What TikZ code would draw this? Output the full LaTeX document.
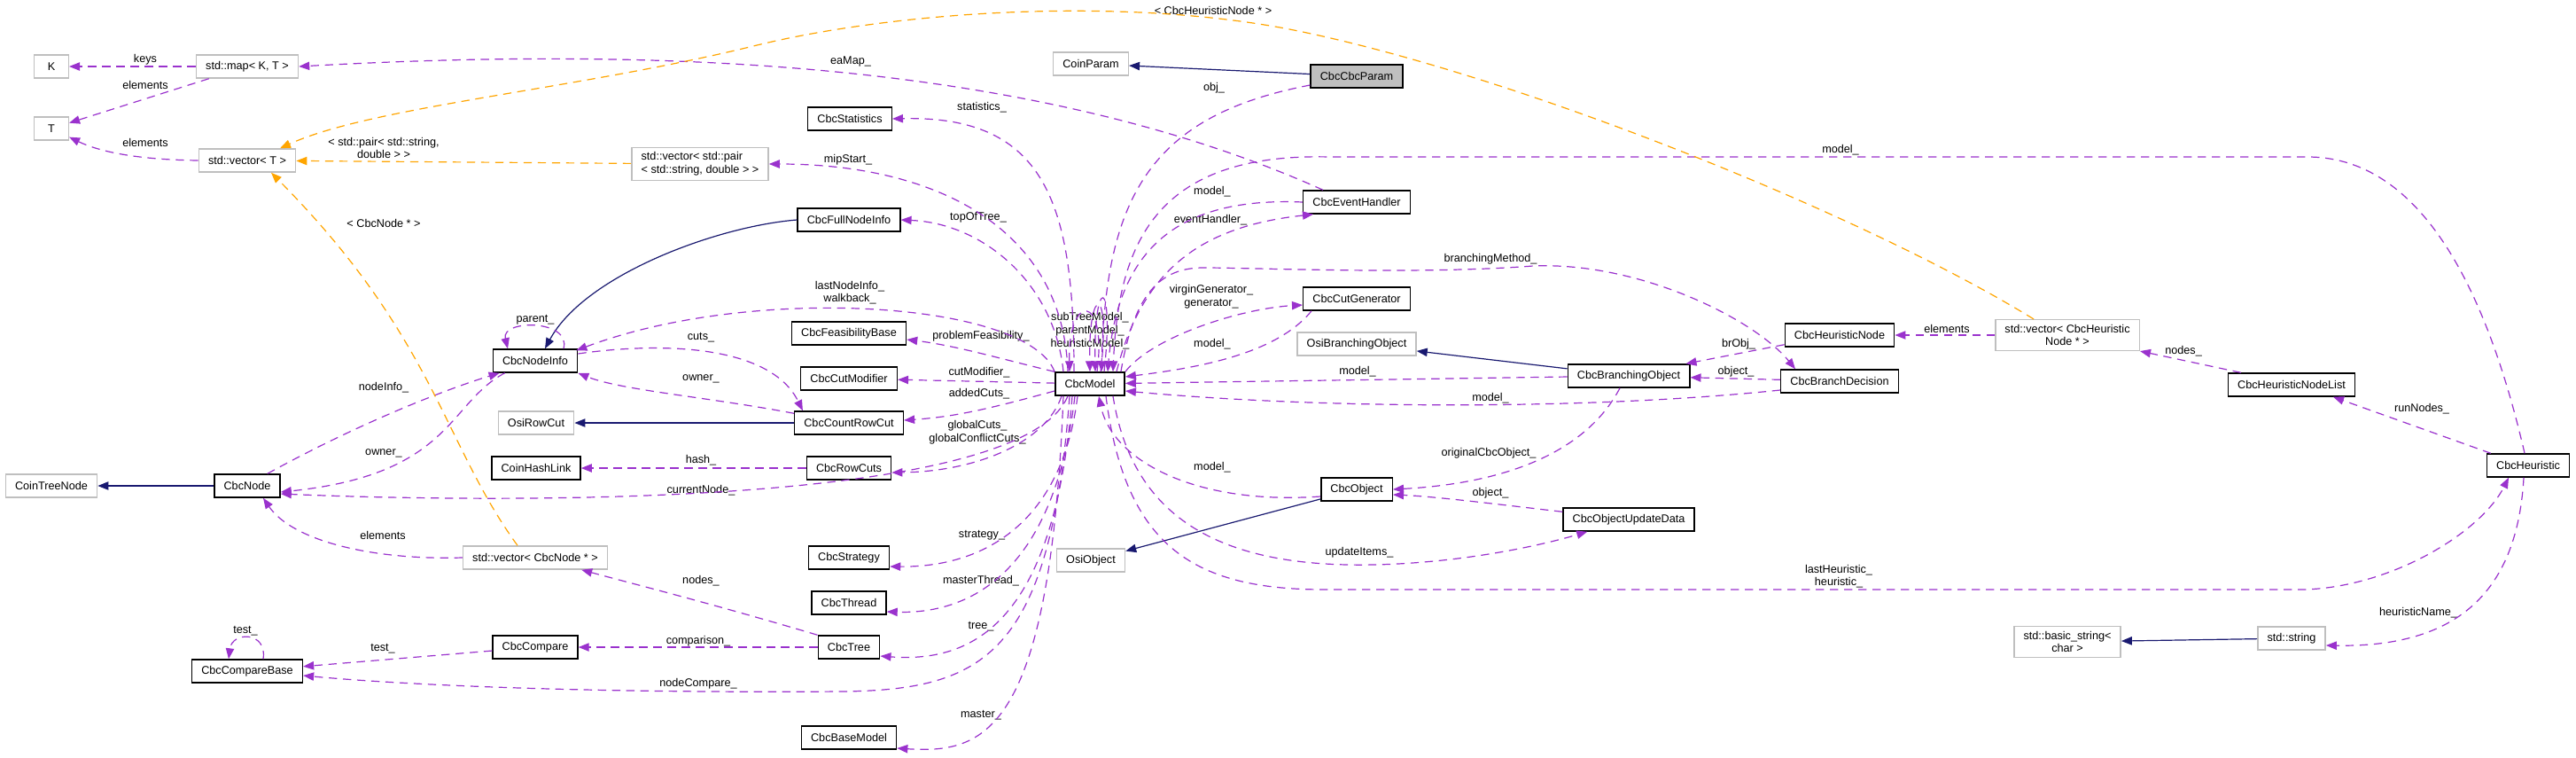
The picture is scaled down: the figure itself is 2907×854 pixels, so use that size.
\documentclass[tikz,border=0pt]{standalone}
\usepackage{fontspec}
\setmainfont{Liberation Sans}
\usetikzlibrary{arrows.meta,calc}
\definecolor{usecol}{HTML}{9A32CD}
\definecolor{tplcol}{HTML}{FFA500}
\definecolor{inhcol}{HTML}{191970}
\definecolor{extcol}{HTML}{BFBFBF}

\begin{document}
\begin{tikzpicture}[x=0.75pt,y=-0.75pt]
\tikzset{vertex/.style = {draw=black,line width=1.1pt,fill=white,minimum height=19.5pt,minimum width=29pt,inner xsep=8pt,inner ysep=4pt,font=\fontsize{9.5}{11}\selectfont}}
\tikzset{extvertex/.style = {vertex,draw=extcol}}
\tikzset{elabel/.style = {inner sep=0pt,align=center,font=\fontsize{9.5}{11}\selectfont}}
\tikzset{usage/.style = {draw=usecol,line width=0.9pt,dash pattern=on 7pt off 5pt,-{Triangle[length=9pt,width=7pt]}}}
\tikzset{templ/.style = {usage,draw=tplcol}}
\tikzset{inherit/.style = {draw=inhcol,line width=0.9pt,-{Triangle[length=9pt,width=7pt]}}}
\path[fill=white,use as bounding box] (0,0) rectangle (2907,854);
% vertices
\node[extvertex] (0) at (58,75) {K};
\node[extvertex] (1) at (279,75) {std::map< K, T >};
\node[extvertex] (2) at (58,145) {T};
\node[extvertex] (3) at (279,181) {std::vector< T >};
\node[extvertex,align=left] (4) at (790,185) {std::vector< std::pair\\< std::string, double > >};
\node[extvertex] (5) at (1231,72) {CoinParam};
\node[vertex,fill=extcol] (6) at (1531,86) {CbcCbcParam};
\node[vertex] (7) at (959,134) {CbcStatistics};
\node[vertex] (8) at (958,248) {CbcFullNodeInfo};
\node[vertex] (9) at (1531,228) {CbcEventHandler};
\node[vertex] (10) at (604,407) {CbcNodeInfo};
\node[vertex] (11) at (958,376) {CbcFeasibilityBase};
\node[vertex] (12) at (958,427) {CbcCutModifier};
\node[vertex] (13) at (1230,433) {CbcModel};
\node[vertex] (14) at (958,477) {CbcCountRowCut};
\node[extvertex] (15) at (605,477) {OsiRowCut};
\node[vertex] (16) at (958,528) {CbcRowCuts};
\node[vertex] (17) at (605,528) {CoinHashLink};
\node[extvertex] (18) at (58,548) {CoinTreeNode};
\node[vertex] (19) at (279,548) {CbcNode};
\node[vertex] (20) at (1531,337) {CbcCutGenerator};
\node[extvertex] (21) at (1531,388) {OsiBranchingObject};
\node[vertex] (22) at (1838,424) {CbcBranchingObject};
\node[vertex] (23) at (2076,378) {CbcHeuristicNode};
\node[vertex] (24) at (2076,430) {CbcBranchDecision};
\node[extvertex,align=center] (25) at (2333,378) {std::vector< CbcHeuristic\\Node * >};
\node[vertex] (26) at (2586,434) {CbcHeuristicNodeList};
\node[vertex] (27) at (2853,525) {CbcHeuristic};
\node[vertex] (28) at (1531,552) {CbcObject};
\node[vertex] (29) at (1838,586) {CbcObjectUpdateData};
\node[extvertex] (30) at (1231,632) {OsiObject};
\node[extvertex] (31) at (604,629) {std::vector< CbcNode * >};
\node[vertex] (32) at (958,629) {CbcStrategy};
\node[vertex] (33) at (958,680) {CbcThread};
\node[vertex] (34) at (958,730) {CbcTree};
\node[vertex] (35) at (604,730) {CbcCompare};
\node[vertex] (36) at (279,757) {CbcCompareBase};
\node[vertex] (37) at (958,832) {CbcBaseModel};
\node[extvertex,align=center] (38) at (2333,724) {std::basic\_string<\\char >};
\node[extvertex] (39) at (2586,720) {std::string};
% labels
\node[elabel] (l0) at (164,67) {keys};
\node[elabel] (l1) at (164,96) {elements};
\node[elabel] (l2) at (164,161) {elements};
\node[elabel] (l3) at (433,167) {< std::pair< std::string,\\double > >};
\node[elabel] (l4) at (433,252) {< CbcNode * >};
\node[elabel] (l5) at (1369,12) {< CbcHeuristicNode * >};
\node[elabel] (l6) at (960,69) {eaMap\_};
\node[elabel] (l7) at (1370,99) {obj\_};
\node[elabel] (l8) at (1108,121) {statistics\_};
\node[elabel] (l9) at (957,180) {mipStart\_};
\node[elabel] (l10) at (1104,245) {topOfTree\_};
\node[elabel] (l11) at (1368,216) {model\_};
\node[elabel] (l12) at (1366,248) {eventHandler\_};
\node[elabel] (l13) at (2077,169) {model\_};
\node[elabel] (l14) at (1682,292) {branchingMethod\_};
\node[elabel] (l15) at (959,330) {lastNodeInfo\_\\walkback\_};
\node[elabel] (l16) at (1230,373) {subTreeModel\_\\parentModel\_\\heuristicModel\_};
\node[elabel] (l17) at (1367,335) {virginGenerator\_\\generator\_};
\node[elabel] (l18) at (1368,388) {model\_};
\node[elabel] (l19) at (1107,379) {problemFeasibility\_};
\node[elabel] (l20) at (791,381) {cuts\_};
\node[elabel] (l21) at (791,427) {owner\_};
\node[elabel] (l22) at (604,361) {parent\_};
\node[elabel] (l23) at (1105,420) {cutModifier\_};
\node[elabel] (l24) at (1105,444) {addedCuts\_};
\node[elabel] (l25) at (1103,488) {globalCuts\_\\globalConflictCuts\_};
\node[elabel] (l26) at (791,519) {hash\_};
\node[elabel] (l27) at (791,553) {currentNode\_};
\node[elabel] (l28) at (433,437) {nodeInfo\_};
\node[elabel] (l29) at (433,511) {owner\_};
\node[elabel] (l30) at (1532,419) {model\_};
\node[elabel] (l31) at (1682,449) {model\_};
\node[elabel] (l32) at (1962,388) {brObj\_};
\node[elabel] (l33) at (1959,419) {object\_};
\node[elabel] (l34) at (2197,371) {elements};
\node[elabel] (l35) at (2464,396) {nodes\_};
\node[elabel] (l36) at (2733,461) {runNodes\_};
\node[elabel] (l37) at (1680,511) {originalCbcObject\_};
\node[elabel] (l38) at (1682,556) {object\_};
\node[elabel] (l39) at (1368,527) {model\_};
\node[elabel] (l40) at (1534,623) {updateItems\_};
\node[elabel] (l41) at (2075,650) {lastHeuristic\_\\heuristic\_};
\node[elabel] (l42) at (2729,691) {heuristicName\_};
\node[elabel] (l43) at (432,604) {elements};
\node[elabel] (l44) at (791,655) {nodes\_};
\node[elabel] (l45) at (1108,604) {strategy\_};
\node[elabel] (l46) at (1107,655) {masterThread\_};
\node[elabel] (l47) at (1107,707) {tree\_};
\node[elabel] (l48) at (788,723) {comparison\_};
\node[elabel] (l49) at (277,712) {test\_};
\node[elabel] (l50) at (432,732) {test\_};
\node[elabel] (l51) at (788,771) {nodeCompare\_};
\node[elabel] (l52) at (1107,807) {master\_};
%edges
\draw[inherit] (6) -- (5);
\draw[inherit] (8.west) .. controls (810,255) and (660,310) .. ($(10.north)+(11,0)$);
\draw[inherit] (14) -- (15);
\draw[inherit] (19) -- (18);
\draw[inherit] (22) -- (21);
\draw[inherit] (28) -- (30);
\draw[inherit] (39) -- (38);
\draw[usage] (1) -- (0);
\draw[usage] (1) -- (2);
\draw[usage] (3.west) .. controls (150,180) and (110,170) .. (2);
\draw[usage] ($(9.north west)+(23,0)$) .. controls (1150,60) and (700,55) .. (1.east);
\draw[usage] ($(6.west)+(0,10)$) .. controls (1300,130) and (1248,220) .. ($(13.north)+(13,0)$);
\draw[usage] ($(13.north)+(-18,0)$) .. controls (1212,230) and (1180,130) .. (7.east);
\draw[usage] ($(13.north)+(-25,0)$) .. controls (1200,260) and (1060,185) .. (4.east);
\draw[usage] ($(13.north)+(-30,0)$) .. controls (1190,320) and (1110,252) .. (8.east);
\draw[usage] (13.north west) .. controls (1160,340) and (850,320) .. ($(10.north east)+(-2,2)$);
\draw[usage] (9.west) .. controls (1330,222) and (1262,280) .. ($(13.north)+(20,0)$);
\draw[usage] ($(13.north)+(30,0)$) .. controls (1290,300) and (1360,255) .. ($(9.south west)+(12,0)$);
\draw[usage] ($(27.north)+(-4,0)$) .. controls (2800,300) and (2720,177) .. (2604,177) -- (1500,177) .. controls (1300,172) and (1262,280) .. ($(13.north)+(26,0)$);
\draw[usage] ($(13.north east)+(-5,0)$) .. controls (1280,330) and (1310,302) .. (1358,302) .. controls (1420,302) and (1600,310) .. (1730,300) .. controls (1850,295) and (1980,360) .. ($(24.north)+(-50,0)$);
\draw[usage] ($(13.north)+(8,0)$) .. controls (1250,330) and (1205,330) .. ($(13.north)+(-23,0)$);
\draw[usage] ($(13.north)+(12,0)$) .. controls (1254,320) and (1228,320) .. ($(13.north)+(0,0)$);
\draw[usage] ($(13.north)+(16,0)$) .. controls (1258,310) and (1234,310) .. ($(13.north)+(6,0)$);
\draw[usage] (13.north east) .. controls (1300,380) and (1400,348) .. ($(20.west)+(0,7)$);
\draw[usage] ($(20.south west)+(10,0)$) .. controls (1440,400) and (1350,415) .. ($(13.east)+(0,-8)$);
\draw[usage] (22) -- (13);
\draw[usage] ($(24.west)+(0,10)$) .. controls (1800,462) and (1500,462) .. ($(13.east)+(0,8)$);
\draw[usage] (13.north west) .. controls (1130,405) and (1080,390) .. ($(11.east)+(0,7)$);
\draw[usage] (13) -- (12);
\draw[usage] ($(13.west)+(0,8)$) .. controls (1120,460) and (1080,470) .. ($(14.east)+(0,-3)$);
\draw[usage] ($(10.east)+(0,-8)$) .. controls (750,385) and (870,390) .. ($(14.north west)+(10,0)$);
\draw[usage] ($(14.north west)+(0,3)$) .. controls (800,448) and (700,440) .. (10.south east);
\draw[usage] ($(10.north)+(32,0)$) .. controls (645,360) and (565,360) .. ($(10.north)+(-31,0)$);
\draw[usage] ($(19.north east)+(-15,0)$) .. controls (400,480) and (500,440) .. ($(10.south west)+(8,0)$);
\draw[usage] ($(10.south west)+(14,0)$) .. controls (505,455) and (510,535) .. ($(19.east)+(0,7)$);
\draw[usage] ($(13.south)+(-32,0)$) .. controls (1180,500) and (1100,532) .. ($(16.east)+(0,5)$);
\draw[usage] (16) -- (17);
\draw[usage] ($(13.south)+(-25,0)$) .. controls (1150,580) and (500,565) .. ($(19.east)+(0,9)$);
\draw[usage] (31.west) .. controls (420,632) and (330,610) .. ($(19.south)+(18,0)$);
\draw[usage] (34.north west) .. controls (800,680) and (720,660) .. ($(31.south east)+(-30,0)$);
\draw[usage] ($(13.south)+(-14,0)$) .. controls (1200,580) and (1120,640) .. ($(32.east)+(0,10)$);
\draw[usage] ($(13.south)+(-17,0)$) .. controls (1190,640) and (1100,693) .. ($(33.east)+(0,10)$);
\draw[usage] ($(13.south)+(-20,0)$) .. controls (1190,700) and (1100,748) .. ($(34.east)+(0,10)$);
\draw[usage] (34) -- (35);
\draw[usage] (35) -- (36);
\draw[usage] ($(36.north)+(18,0)$) .. controls (302,712) and (262,712) .. ($(36.north)+(-21,0)$);
\draw[usage] ($(13.south)+(-23,0)$) .. controls (1185,740) and (1110,778) .. (950,780) .. controls (650,782) and (450,772) .. ($(36.east)+(0,5)$);
\draw[usage] ($(13.south)+(-30,0)$) .. controls (1185,830) and (1110,850) .. ($(37.east)+(0,12)$);
\draw[usage] ($(28.west)+(0,8)$) .. controls (1350,570) and (1255,520) .. ($(13.south)+(10,0)$);
\draw[usage] ($(13.south)+(26,0)$) .. controls (1280,600) and (1400,640) .. (1550,637) .. controls (1650,635) and (1740,615) .. ($(29.south west)+(28,0)$);
\draw[usage] ($(13.south)+(18,0)$) .. controls (1270,620) and (1350,666) .. (1500,665) -- (2600,665) .. controls (2700,662) and (2800,600) .. ($(27.south)+(-22,0)$);
\draw[usage] ($(27.south)+(-5,0)$) .. controls (2840,680) and (2760,730) .. ($(39.east)+(0,8)$);
\draw[usage] ($(27.north west)+(5,0)$) -- ($(26.south)+(47,0)$);
\draw[usage] ($(26.north west)+(15,0)$) -- (25.south east);
\draw[usage] (25) -- (23);
\draw[usage] ($(23.south west)+(0,-3)$) -- ($(22.north east)+(-5,0)$);
\draw[usage] (24) -- (22);
\draw[usage] ($(22.south)+(-10,0)$) .. controls (1790,510) and (1700,545) .. (28.east);
\draw[usage] ($(29.north west)+(0,5)$) .. controls (1700,570) and (1620,560) .. ($(28.east)+(0,6)$);
\draw[templ] (4) -- (3);
\draw[templ] ($(31.north)+(-20,0)$) .. controls (500,500) and (490,380) .. ($(3.south)+(27,0)$);
\draw[templ] ($(25.north)+(-38,0)$) .. controls (2100,240) and (1700,80) .. (1450,32) .. controls (1250,-5) and (1000,15) .. (850,52) .. controls (650,101) and (420,120) .. ($(3.north)+(37,0)$);
\end{tikzpicture}
\end{document}
